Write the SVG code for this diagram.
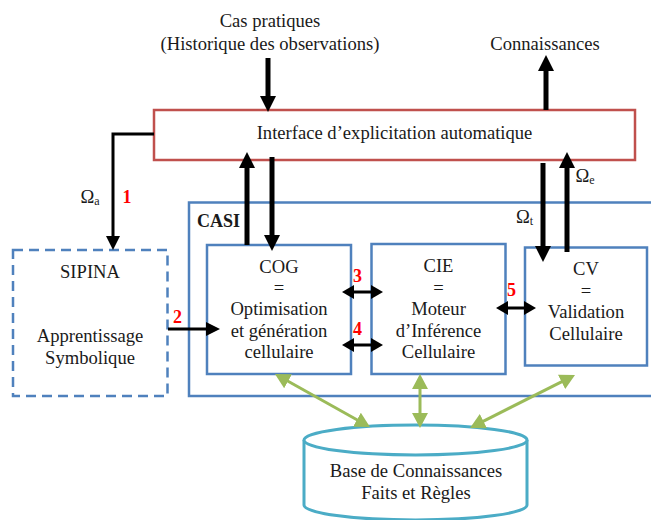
<svg xmlns="http://www.w3.org/2000/svg" width="651" height="520" viewBox="0 0 651 520">
<style>
text{font-family:"Liberation Serif","Times New Roman",serif;font-size:18.6px;fill:#1a1a1a}
.c{text-anchor:middle}
.num{fill:#ff0000;font-weight:bold;font-size:18px}
.bold{font-weight:bold;font-size:18px}
.sub{font-size:12px}
.box{fill:#fff;stroke:#4f81bd;stroke-width:2.5}
.dash{fill:#fff;stroke:#4f81bd;stroke-width:2.5;stroke-dasharray:10 6}
.iface{fill:#fff;stroke:#c0504d;stroke-width:2.5}
.cyl{fill:#fff;stroke:#4bacc6;stroke-width:3}
.thick{stroke:#000;stroke-width:5;fill:none}
.thin{stroke:#000;stroke-width:3;fill:none}
.green{stroke:#9bbb59;stroke-width:3;fill:none}
</style>
<defs>
<marker id="ah" markerUnits="userSpaceOnUse" markerWidth="16" markerHeight="16" refX="2" refY="8" orient="auto"><path d="M0,0 L16,8 L0,16 z" fill="#000"/></marker>
<marker id="ahs" markerUnits="userSpaceOnUse" markerWidth="14" markerHeight="14" refX="2" refY="7" orient="auto"><path d="M0,0 L14,7 L0,14 z" fill="#000"/></marker>
<marker id="ahd" markerUnits="userSpaceOnUse" markerWidth="12" markerHeight="14" refX="2" refY="7" orient="auto-start-reverse"><path d="M0,0 L12,7 L0,14 z" fill="#000"/></marker>
<marker id="ahg" markerUnits="userSpaceOnUse" markerWidth="15" markerHeight="16" refX="2" refY="8" orient="auto-start-reverse"><path d="M0,0 L15,8 L0,16 z" fill="#9bbb59"/></marker>
</defs>

<g id="cas-pratiques">
<text class="c" x="270" y="27">Cas pratiques</text>
<text class="c" x="270" y="50">(Historique des observations)</text>
</g>
<g id="connaissances">
<text class="c" x="545" y="50">Connaissances</text>
</g>

<g id="interface">
<rect class="iface" x="154" y="110" width="481" height="50"/>
<text class="c" x="394.5" y="139">Interface d’explicitation automatique</text>
</g>

<g id="casi">
<rect class="box" x="189" y="202.5" width="480" height="193.5"/>
<text class="bold" x="197" y="226.5">CASI</text>
</g>

<g id="sipina">
<rect class="dash" x="13" y="250" width="154.5" height="146"/>
<text class="c" x="90" y="278">SIPINA</text>
<text class="c" x="90" y="342">Apprentissage</text>
<text class="c" x="90" y="363.5">Symbolique</text>
</g>

<g id="cog">
<rect class="box" x="207" y="245" width="144" height="129"/>
<text class="c" x="279" y="273">COG</text>
<text class="c" x="279" y="294">=</text>
<text class="c" x="279" y="315">Optimisation</text>
<text class="c" x="279" y="336.5">et génération</text>
<text class="c" x="279" y="358">cellulaire</text>
</g>

<g id="cie">
<rect class="box" x="371.5" y="244" width="134" height="130"/>
<text class="c" x="438.5" y="272">CIE</text>
<text class="c" x="438.5" y="293.5">=</text>
<text class="c" x="438.5" y="315">Moteur</text>
<text class="c" x="438.5" y="336.5">d’Inférence</text>
<text class="c" x="438.5" y="358">Cellulaire</text>
</g>

<g id="cv">
<rect class="box" x="525" y="247.5" width="122" height="118"/>
<text class="c" x="586" y="275">CV</text>
<text class="c" x="586" y="296.5">=</text>
<text class="c" x="586" y="318">Validation</text>
<text class="c" x="586" y="339.5">Cellulaire</text>
</g>

<g id="base">
<path class="cyl" d="M304,440 V505 A111.5,15 0 0 0 527,505 V440"/>
<ellipse class="cyl" cx="415.5" cy="440" rx="111.5" ry="15"/>
<text class="c" x="416" y="477">Base de Connaissances</text>
<text class="c" x="416" y="498.5">Faits et Règles</text>
</g>

<g id="connectors">
<line class="thick" x1="268" y1="58" x2="268" y2="98" marker-end="url(#ah)"/>
<line class="thick" x1="546" y1="110" x2="546" y2="69" marker-end="url(#ah)"/>
<line class="thick" x1="247" y1="245" x2="247" y2="166" marker-end="url(#ah)"/>
<line class="thick" x1="272" y1="157" x2="272" y2="237" marker-end="url(#ah)"/>
<line class="thick" x1="543" y1="163" x2="543" y2="248" marker-end="url(#ah)"/>
<line class="thick" x1="567" y1="252" x2="567" y2="166" marker-end="url(#ah)"/>
<path class="thin" d="M154,134 H113 V238" marker-end="url(#ahs)"/>
<line class="thin" x1="168" y1="329" x2="208" y2="329" marker-end="url(#ahs)"/>
<line class="thin" x1="352" y1="292" x2="373" y2="292" marker-start="url(#ahd)" marker-end="url(#ahd)"/>
<line class="thin" x1="352" y1="345" x2="373" y2="345" marker-start="url(#ahd)" marker-end="url(#ahd)"/>
<line class="thin" x1="506" y1="308" x2="526" y2="308" marker-start="url(#ahd)" marker-end="url(#ahd)"/>
<line class="green" x1="286.3" y1="380.3" x2="358.7" y2="420.7" marker-start="url(#ahg)" marker-end="url(#ahg)"/>
<line class="green" x1="420" y1="387" x2="420" y2="415" marker-start="url(#ahg)" marker-end="url(#ahg)"/>
<line class="green" x1="563.4" y1="380.9" x2="481.6" y2="422.1" marker-start="url(#ahg)" marker-end="url(#ahg)"/>
<text x="80.5" y="203">Ω<tspan class="sub" dy="2">a</tspan></text>
<text class="num" x="122.5" y="203">1</text>
<text class="num" x="173" y="323">2</text>
<text class="num" x="353" y="282">3</text>
<text class="num" x="353" y="335">4</text>
<text class="num" x="507" y="296">5</text>
<text x="516" y="222.5">Ω<tspan class="sub" dy="2">t</tspan></text>
<text x="575.5" y="181.5">Ω<tspan class="sub" dy="2">e</tspan></text>
</g>
</svg>
